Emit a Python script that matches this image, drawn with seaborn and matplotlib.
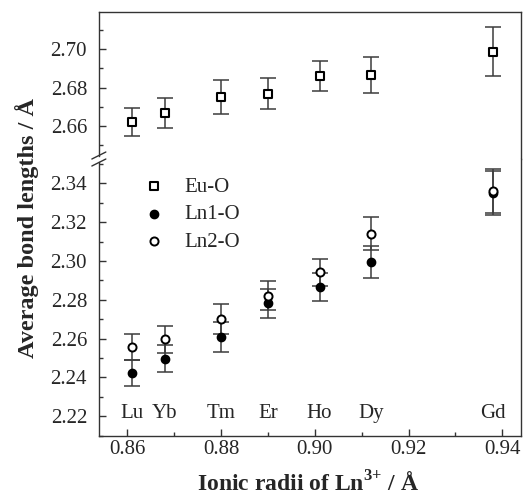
import matplotlib
matplotlib.use("Agg")
import matplotlib.pyplot as plt
from matplotlib.ticker import MultipleLocator, FormatStrFormatter
from matplotlib.lines import Line2D
import pandas as pd
import seaborn as sns

# Shannon ionic radii of Ln3+ (Å) and element symbols
radii = [0.861, 0.868, 0.880, 0.890, 0.901, 0.912, 0.938]
elements = ["Lu", "Yb", "Tm", "Er", "Ho", "Dy", "Gd"]

# Average bond lengths (Å) with their standard deviations
eu_o = [2.6623, 2.6668, 2.6752, 2.6768, 2.6861, 2.6865, 2.6986]
eu_o_err = [0.0073, 0.0077, 0.0087, 0.0082, 0.0078, 0.0095, 0.0126]
ln1_o = [2.2424, 2.2496, 2.2609, 2.2781, 2.2864, 2.2993, 2.3348]
ln1_o_err = [0.0068, 0.0069, 0.0076, 0.0074, 0.0072, 0.0083, 0.0113]
ln2_o = [2.2557, 2.2597, 2.2701, 2.2821, 2.2941, 2.3141, 2.3360]
ln2_o_err = [0.0066, 0.0070, 0.0078, 0.0074, 0.0070, 0.0085, 0.0114]

df = pd.DataFrame({"radius": radii, "Eu-O": eu_o, "Ln1-O": ln1_o, "Ln2-O": ln2_o})

sns.set_theme(style="ticks")
plt.rcParams["font.family"] = ["Liberation Serif", "DejaVu Serif"]
plt.rcParams["mathtext.fontset"] = "custom"
plt.rcParams["mathtext.rm"] = "Liberation Serif"
plt.rcParams["mathtext.bf"] = "Liberation Serif:bold"

FS = 15

fig = plt.figure(figsize=(5.23, 4.96), dpi=100)
left, width = 0.189, 0.808
y_break, y_top, y_bot = 0.6794, 0.9758, 0.1210
ax_top = fig.add_axes([left, y_break, width, y_top - y_break])
ax_bot = fig.add_axes([left, y_bot, width, y_break - y_bot], sharex=ax_top)

ebar_kw = dict(fmt="none", ecolor="#3c3c3c", elinewidth=1.1, capsize=5.5, capthick=1.1, zorder=2)

# Eu-O on the upper panel
ax_top.errorbar(radii, eu_o, yerr=eu_o_err, **ebar_kw)
sns.scatterplot(data=df, x="radius", y="Eu-O", marker="s", s=30, color="white",
                edgecolor="black", linewidth=1.5, ax=ax_top, zorder=3, label="Eu-O", legend=False)

# Ln1-O and Ln2-O on the lower panel
ax_bot.errorbar(radii, ln1_o, yerr=ln1_o_err, **ebar_kw)
ax_bot.errorbar(radii, ln2_o, yerr=ln2_o_err, **ebar_kw)
sns.scatterplot(data=df, x="radius", y="Ln1-O", marker="o", s=36, color="black",
                edgecolor="black", linewidth=1.0, ax=ax_bot, zorder=3, label="Ln1-O", legend=False)
sns.scatterplot(data=df, x="radius", y="Ln2-O", marker="o", s=34, color="white",
                edgecolor="black", linewidth=1.4, ax=ax_bot, zorder=4, label="Ln2-O", legend=False)

for x, name in zip(radii, elements):
    ax_bot.text(x, 2.2215, name, ha="center", va="center", fontsize=FS)

ax_top.set_xlim(0.8539, 0.9441)
ax_top.set_ylim(2.6429, 2.7192)
ax_bot.set_ylim(2.2098, 2.3525)

for ax in (ax_top, ax_bot):
    ax.set_xlabel("")
    ax.set_ylabel("")
    ax.yaxis.set_minor_locator(MultipleLocator(0.01))
    ax.yaxis.set_major_formatter(FormatStrFormatter("%.2f"))
    ax.tick_params(which="both", direction="in", top=False, right=False,
                   labelsize=FS, color="#333333", width=1.0)
    ax.tick_params(axis="y", which="both", pad=8.5)
    ax.tick_params(axis="x", which="both", pad=3)
    ax.tick_params(which="major", length=5)
    ax.tick_params(which="minor", length=3)
    for sp in ax.spines.values():
        sp.set_linewidth(1.0)
        sp.set_color("#333333")

ax_bot.set_yticks([2.22, 2.24, 2.26, 2.28, 2.30, 2.32, 2.34])
ax_top.set_yticks([2.66, 2.68, 2.70])
ax_bot.xaxis.set_major_locator(MultipleLocator(0.02))
ax_bot.xaxis.set_minor_locator(MultipleLocator(0.01))
ax_bot.xaxis.set_major_formatter(FormatStrFormatter("%.2f"))
ax_top.tick_params(axis="x", which="both", bottom=False, labelbottom=False)

ax_top.spines["bottom"].set_visible(False)
ax_bot.spines["top"].set_visible(False)
# small gap in the left spine at the break
ax_top.spines["left"].set_bounds(2.6429 + 0.0016, 2.7192)
ax_bot.spines["left"].set_bounds(2.2098, 2.3525 - 0.0016)

# axis break slashes
fig_h, fig_w = 496.0, 523.0
bx = left
by = y_break
for dy in (3.5 / fig_h, -3.5 / fig_h):
    fig.add_artist(Line2D([bx - 7 / fig_w, bx + 7 / fig_w],
                          [by + dy - 3.5 / fig_h, by + dy + 3.5 / fig_h],
                          color="#333333", lw=1.0))

# legend collected from both panels
h1, l1 = ax_top.get_legend_handles_labels()
h2, l2 = ax_bot.get_legend_handles_labels()
ax_bot.legend(h1 + h2, l1 + l2, loc="upper left", bbox_to_anchor=(0.075, 0.965),
              frameon=False, fontsize=FS, handletextpad=0.7, labelspacing=0.38,
              borderaxespad=0.0, handlelength=1.5)

fig.text(0.051, 0.541, "Average bond lengths / Å", rotation=90, ha="center",
         va="center", fontsize=17.5, fontweight="bold")
fig.text(0.589, 0.009, r"Ionic radii of Ln$^{\mathbf{3{+}}}$ / Å", ha="center",
         va="baseline", fontsize=17, fontweight="bold")

fig.savefig("out.png", dpi=100)
